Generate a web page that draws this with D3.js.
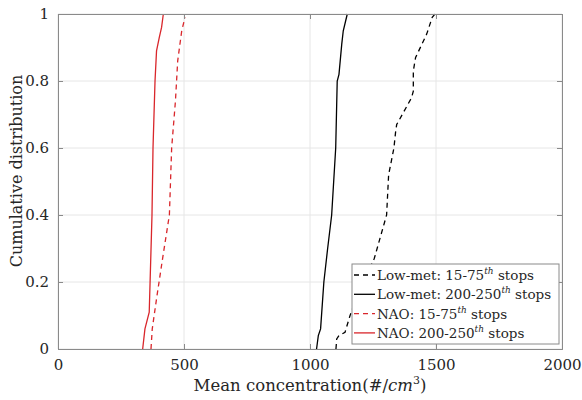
<!DOCTYPE html>
<html>
<head>
<meta charset="utf-8">
<script src="https://cdn.jsdelivr.net/npm/d3@7"></script>
<style>
  body { margin: 0; background: #fff; }
  svg { font-family: "DejaVu Serif", "Liberation Serif", serif; }
</style>
</head>
<body>
<div id="chart"></div>
<script>
let width = 582,
    height = 400;
let margin = {top: 14, right: 20, bottom: 51, left: 58};

// cumulative curves: concentration values and cumulative fraction
let lowMet15X = [1103, 1106, 1115, 1139, 1159, 1198, 1255, 1304, 1312, 1333, 1340, 1344, 1403, 1410, 1410, 1419, 1463, 1485, 1496, 1508];
let lowMet15Y = [0, 0.03, 0.04, 0.05, 0.10, 0.18, 0.27, 0.40, 0.52, 0.60, 0.65, 0.67, 0.75, 0.77, 0.83, 0.87, 0.94, 0.99, 1, 1];
let lowMet200X = [1026, 1033, 1042, 1055, 1070, 1086, 1102, 1108, 1115, 1126, 1132, 1148];
let lowMet200Y = [0, 0.04, 0.06, 0.20, 0.30, 0.40, 0.60, 0.80, 0.82, 0.91, 0.95, 1];
let nao15X = [369, 374, 391, 415, 442, 451, 466, 475, 491, 504];
let nao15Y = [0, 0.06, 0.15, 0.27, 0.40, 0.60, 0.74, 0.86, 0.95, 0.99];
let nao200X = [336, 345, 362, 373, 377, 385, 391, 402, 411, 418];
let nao200Y = [0, 0.06, 0.11, 0.40, 0.60, 0.80, 0.89, 0.93, 0.96, 1];

let xTicks = [0, 500, 1000, 1500, 2000];
let yTicks = [0, 0.2, 0.4, 0.6, 0.8, 1];

let series = [
    {name: "Low-met: 15-75", sup: "th", xs: lowMet15X, ys: lowMet15Y, color: "#000000", dash: "5,4"},
    {name: "Low-met: 200-250", sup: "th", xs: lowMet200X, ys: lowMet200Y, color: "#000000", dash: null},
    {name: "NAO: 15-75", sup: "th", xs: nao15X, ys: nao15Y, color: "#d9262b", dash: "5,4"},
    {name: "NAO: 200-250", sup: "th", xs: nao200X, ys: nao200Y, color: "#d9262b", dash: null}
];

let svg = d3.select("#chart").append("svg")
    .attr("width", width)
    .attr("height", height);

let x = d3.scaleLinear().domain([0, 2000]).range([margin.left, width - margin.right]);
let y = d3.scaleLinear().domain([0, 1]).range([height - margin.bottom, margin.top]);

// grid
svg.append("g").selectAll("line.gx")
    .data(xTicks)
    .join("line")
    .attr("x1", d => x(d)).attr("x2", d => x(d))
    .attr("y1", y(0)).attr("y2", y(1))
    .attr("stroke", "#e6e6e6").attr("stroke-width", 1);
svg.append("g").selectAll("line.gy")
    .data(yTicks)
    .join("line")
    .attr("x1", x(0)).attr("x2", x(2000))
    .attr("y1", d => y(d)).attr("y2", d => y(d))
    .attr("stroke", "#e6e6e6").attr("stroke-width", 1);

// curves
let line = d3.line()
    .x(d => x(d[0]))
    .y(d => y(d[1]));

series.forEach(function (s) {
    let pts = s.xs.map((v, i) => [v, s.ys[i]]);
    svg.append("path")
        .datum(pts)
        .attr("fill", "none")
        .attr("stroke", s.color)
        .attr("stroke-width", 1.3)
        .attr("stroke-dasharray", s.dash)
        .attr("d", line);
});

// axes
svg.append("g")
    .attr("transform", "translate(0," + y(0) + ")")
    .call(d3.axisBottom(x).tickValues(xTicks).tickSize(-5).tickPadding(10).tickFormat(d3.format("d")));
svg.append("g")
    .attr("transform", "translate(" + x(0) + ",0)")
    .call(d3.axisLeft(y).tickValues(yTicks).tickSize(-5).tickPadding(9).tickFormat(d => d === 0 || d === 1 ? d : d3.format(".1f")(d)));
svg.append("g")
    .attr("transform", "translate(0," + y(1) + ")")
    .call(d3.axisTop(x).tickValues(xTicks).tickSize(-5).tickFormat(""));
svg.append("g")
    .attr("transform", "translate(" + x(2000) + ",0)")
    .call(d3.axisRight(y).tickValues(yTicks).tickSize(-5).tickFormat(""));

svg.selectAll(".domain, .tick line").attr("stroke", "#8a8a8a");
svg.selectAll(".tick text")
    .attr("font-family", "DejaVu Serif, Liberation Serif, serif")
    .attr("font-size", 15)
    .attr("fill", "#262626");

// axis labels
let xl = svg.append("text")
    .attr("x", x(1000))
    .attr("y", height - 9)
    .attr("text-anchor", "middle")
    .attr("font-size", 16.5)
    .attr("fill", "#262626");
xl.append("tspan").text("Mean concentration(#/");
xl.append("tspan").attr("font-style", "italic").text("cm");
xl.append("tspan").attr("font-size", 11).attr("dy", -7).text("3");
xl.append("tspan").attr("dy", 7).text(")");

svg.append("text")
    .attr("transform", "translate(22,171) rotate(-90)")
    .attr("text-anchor", "middle")
    .attr("font-size", 16)
    .attr("fill", "#262626")
    .text("Cumulative distribution");

// legend
let lg = svg.append("g").attr("transform", "translate(352,264)");
lg.append("rect")
    .attr("width", 207).attr("height", 80)
    .attr("fill", "#fff").attr("stroke", "#8a8a8a");
series.forEach(function (s, i) {
    let ly = 11 + i * 19.3;
    lg.append("line")
        .attr("x1", 2).attr("x2", 23)
        .attr("y1", ly).attr("y2", ly)
        .attr("stroke", s.color).attr("stroke-width", 1.3)
        .attr("stroke-dasharray", s.dash);
    let t = lg.append("text")
        .attr("x", 25).attr("y", ly + 5)
        .attr("font-size", 13.5)
        .attr("fill", "#262626");
    t.append("tspan").text(s.name);
    t.append("tspan").attr("font-size", 9).attr("font-style", "italic").attr("dy", -6).text(s.sup);
    t.append("tspan").attr("dy", 6).text(" stops");
});
</script>
</body>
</html>
